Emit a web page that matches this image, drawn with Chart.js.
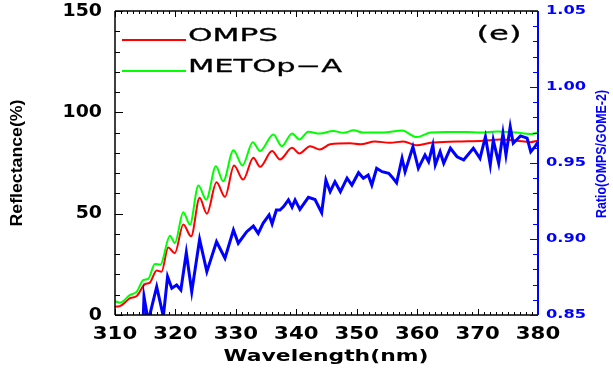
<!DOCTYPE html>
<html>
<head>
<meta charset="utf-8">
<script src="https://cdn.jsdelivr.net/npm/chart.js@4"></script>
<style>
  html, body { margin: 0; padding: 0; background: #fff; }
  #wrap { width: 613px; height: 369px; }
</style>
</head>
<body>
<div id="wrap"><canvas id="chart" width="613" height="369"></canvas></div>
<script>
// values (wavelength in nm)
const ompsNm = [310, 310.8, 312.5, 313.6, 315.0, 315.7, 316.9, 317.7, 318.8, 319.9, 321.3, 322.6, 324.0, 325.2,
  326.8, 328.2, 329.7, 331.2, 332.9, 334.0, 336.0, 337.3, 339.3, 340.5, 342.3, 343.9, 345.6, 348.9, 350.6,
  353.0, 355.5, 357.7, 359.9, 362.2, 366.6, 371.0, 373.7, 376.5, 378.7, 380];
const ompsRefl = [4.1, 4.4, 8.3, 9.4, 15.3, 15.8, 21.9, 21.4, 33.3, 30.5, 44.6, 38.8, 57.8, 50.0,
  65.5, 58.3, 73.8, 66.8, 77.6, 73.1, 80.9, 76.7, 82.5, 79.7, 83.3, 81.7, 84.2, 84.7, 84.2,
  85.6, 85.0, 85.6, 83.7, 85.0, 85.6, 86.0, 86.6, 86.0, 85.3, 86.0];

const metopNm = [310, 310.8, 312.5, 313.6, 314.7, 315.5, 316.6, 317.5, 319.1, 319.9, 321.3, 322.4, 323.8, 325.1,
  326.7, 327.9, 329.6, 331.1, 332.8, 334.0, 336.2, 337.6, 339.3, 340.5, 342.0, 343.9, 346.1, 347.8, 349.5,
  351.1, 354.4, 357.5, 359.9, 362.2, 364.9, 368.2, 370.4, 373.2, 376.5, 378.7, 380];
const metopRefl = [6.8, 6.1, 9.9, 11.5, 17.3, 17.8, 25.2, 24.8, 39.1, 35.5, 50.7, 44.6, 63.9, 56.9,
  73.4, 66.0, 81.3, 73.8, 85.3, 80.9, 89.1, 83.3, 89.6, 86.6, 90.4, 89.5, 90.8, 89.9, 91.1,
  90.0, 90.0, 91.0, 87.8, 90.0, 90.3, 90.3, 90.0, 90.6, 90.0, 89.3, 90.0];

const ratioNm = [314.6, 314.8, 315.5, 316.9, 318.0, 318.7, 319.4, 320.2, 320.9, 321.8, 322.7, 324.0, 325.2,
  326.8, 328.2, 329.6, 330.4, 331.8, 332.9, 333.7, 334.5, 335.5, 336.0, 336.7, 337.3, 337.9, 338.7, 339.3,
  339.8, 340.6, 342.0, 343.1, 344.2, 344.9, 345.6, 346.4, 347.3, 348.4, 349.2, 350.3, 351.1, 351.9,
  352.5, 353.3, 354.2, 355.3, 355.8, 356.6, 357.5, 358.0, 359.3, 360.2, 361.3, 361.9, 362.6, 363.0,
  363.8, 364.4, 365.5, 366.6, 367.7, 369.3, 370.4, 371.3, 372.1, 372.6, 373.5, 374.2, 374.7, 375.4,
  375.9, 377.1, 378.2, 378.8, 379.5, 380];
const ratioVals = [0.840, 0.862, 0.846, 0.8686, 0.849, 0.8752, 0.8676, 0.8697, 0.8664, 0.891, 0.8653, 0.8998, 0.8785,
  0.8982, 0.8873, 0.9059, 0.8972, 0.9048, 0.9085, 0.9037, 0.9103, 0.9158, 0.910, 0.919, 0.919, 0.9213, 0.9257, 0.921,
  0.9257, 0.9195, 0.9274, 0.926, 0.9173, 0.9388, 0.9311, 0.9377, 0.9311, 0.940, 0.9355, 0.9436, 0.9399, 0.9421,
  0.9355, 0.9465, 0.9443, 0.9432, 0.941, 0.937, 0.9531, 0.9443, 0.9607, 0.9465, 0.9553, 0.9509, 0.9618, 0.9487,
  0.9574, 0.9498, 0.9597, 0.9541, 0.952, 0.9597, 0.9531, 0.9673, 0.9487, 0.9651, 0.9498, 0.9695, 0.9553, 0.9739,
  0.963, 0.9678, 0.9664, 0.9574, 0.9607, 0.964];

const xTicks = [310, 320, 330, 340, 350, 360, 370, 380];
const leftTicks = [0, 50, 100, 150];
const rightTicks = [0.85, 0.90, 0.95, 1.00, 1.05];
const legendNames = ["OMPS", "METOp\u2212A"];
const panelLabel = "(e)";

function toXY(xs, ys) {
    return xs.map((x, i) => ({ x: x, y: ys[i] }));
}

// text drawn with a horizontal stretch (the IDL fonts are wide)
function drawText(ctx, text, x, y, font, opts) {
    ctx.save();
    ctx.font = font;
    ctx.fillStyle = opts.color || "#000";
    ctx.textAlign = opts.align || "center";
    ctx.textBaseline = opts.baseline || "middle";
    let sx = opts.sx || 1;
    if (opts.width) sx = opts.width / ctx.measureText(text).width;
    ctx.translate(x, y);
    if (opts.rot) ctx.rotate(opts.rot);
    ctx.scale(sx, 1);
    ctx.fillText(text, 0, 0);
    if (opts.stroke) {
        ctx.strokeStyle = ctx.fillStyle;
        ctx.lineWidth = opts.stroke;
        ctx.strokeText(text, 0, 0);
    }
    ctx.restore();
}

const axesPlugin = {
    id: "idlAxes",
    afterDatasetsDraw(chart) {
        const { ctx, chartArea: a, scales } = chart;
        const x = scales.x, y = scales.y, y1 = scales.y1;

        ctx.save();
        ctx.lineWidth = 1.5;
        ctx.strokeStyle = "#000";
        // frame: left, bottom, top
        ctx.beginPath();
        ctx.moveTo(a.left, a.top); ctx.lineTo(a.left, a.bottom);
        ctx.moveTo(a.left, a.bottom); ctx.lineTo(a.right, a.bottom);
        ctx.moveTo(a.left, a.top); ctx.lineTo(a.right, a.top);
        ctx.stroke();

        // x ticks, inward on bottom and top
        ctx.lineWidth = 1;
        ctx.beginPath();
        for (let v = 310; v <= 380; v++) {
            const px = Math.round(x.getPixelForValue(v)) + 0.5;
            const len = v % 10 === 0 ? 6 : 3;
            ctx.moveTo(px, a.bottom); ctx.lineTo(px, a.bottom - len);
            ctx.moveTo(px, a.top); ctx.lineTo(px, a.top + len);
        }
        // left ticks
        for (let v = 0; v <= 150; v += 10) {
            const py = Math.round(y.getPixelForValue(v)) + 0.5;
            const len = v % 50 === 0 ? 8 : 5;
            ctx.moveTo(a.left, py); ctx.lineTo(a.left + len, py);
        }
        ctx.stroke();

        // right axis in blue
        ctx.strokeStyle = "#0000ff";
        ctx.lineWidth = 2;
        ctx.beginPath();
        ctx.moveTo(a.right, a.top); ctx.lineTo(a.right, a.bottom);
        ctx.stroke();
        ctx.lineWidth = 1;
        ctx.beginPath();
        for (let i = 0; i <= 20; i++) {
            const v = 0.85 + i * 0.01;
            const py = Math.round(y1.getPixelForValue(v)) + 0.5;
            const len = i % 5 === 0 ? 8 : 5;
            ctx.moveTo(a.right, py); ctx.lineTo(a.right - len, py);
        }
        ctx.stroke();
        ctx.restore();

        // tick labels
        xTicks.forEach((v) => {
            drawText(ctx, String(v), x.getPixelForValue(v), 335, "bold 17px 'DejaVu Sans'", { sx: 1.25 });
        });
        leftTicks.forEach((v) => {
            drawText(ctx, String(v), 102, y.getPixelForValue(v), "bold 18px 'DejaVu Sans'", { align: "right", sx: 1.05 });
        });
        rightTicks.forEach((v) => {
            drawText(ctx, v.toFixed(2), 546, y1.getPixelForValue(v), "bold 12.5px 'DejaVu Sans'",
                { align: "left", sx: 1.3, color: "#0000ff" });
        });

        // axis titles
        drawText(ctx, "Wavelength(nm)", 326, 357, "bold 16px 'DejaVu Sans'", { width: 205 });
        drawText(ctx, "Reflectance(%)", 18, 163, "bold 16px 'Liberation Sans'", { width: 127, rot: -Math.PI / 2 });
        drawText(ctx, "Ratio(OMPS/GOME-2)", 602, 154, "bold 15px 'Liberation Sans'",
            { width: 128, rot: -Math.PI / 2, color: "#0000ff" });

        // legend inside the frame
        const legendColors = ["#ff0000", "#00ff00"];
        const legendY = [40, 71];
        const legendW = [90, 154];
        legendNames.forEach((name, i) => {
            ctx.save();
            ctx.strokeStyle = legendColors[i];
            ctx.lineWidth = 2;
            ctx.beginPath();
            ctx.moveTo(122, legendY[i]); ctx.lineTo(186, legendY[i]);
            ctx.stroke();
            ctx.restore();
            drawText(ctx, name, 188, legendY[i] + 1, "18px 'DejaVu Sans'",
                { align: "left", baseline: "alphabetic", width: legendW[i], stroke: 0.3 });
        });
        drawText(ctx, panelLabel, 499, 35, "20px 'DejaVu Sans'", { width: 45, stroke: 0.3 });
    }
};

new Chart(document.getElementById("chart"), {
    type: "line",
    data: {
        datasets: [
            {
                label: "Ratio",
                data: toXY(ratioNm, ratioVals),
                yAxisID: "y1",
                borderColor: "#0000ff",
                borderWidth: 3,
                pointRadius: 0,
                tension: 0,
                order: 0,
            },
            {
                label: legendNames[1],
                data: toXY(metopNm, metopRefl),
                yAxisID: "y",
                borderColor: "#00ff00",
                borderWidth: 2,
                pointRadius: 0,
                cubicInterpolationMode: "monotone",
                order: 1,
            },
            {
                label: legendNames[0],
                data: toXY(ompsNm, ompsRefl),
                yAxisID: "y",
                borderColor: "#ff0000",
                borderWidth: 2,
                pointRadius: 0,
                cubicInterpolationMode: "monotone",
                order: 2,
            },
        ],
    },
    options: {
        responsive: false,
        animation: false,
        layout: { padding: { left: 115, right: 75, top: 11, bottom: 54 } },
        plugins: { legend: { display: false }, tooltip: { enabled: false } },
        scales: {
            x: { type: "linear", min: 310, max: 380, display: false },
            y: { min: 0, max: 150, display: false },
            y1: { min: 0.85, max: 1.05, display: false, position: "right" },
        },
    },
    plugins: [axesPlugin],
});
</script>
</body>
</html>
